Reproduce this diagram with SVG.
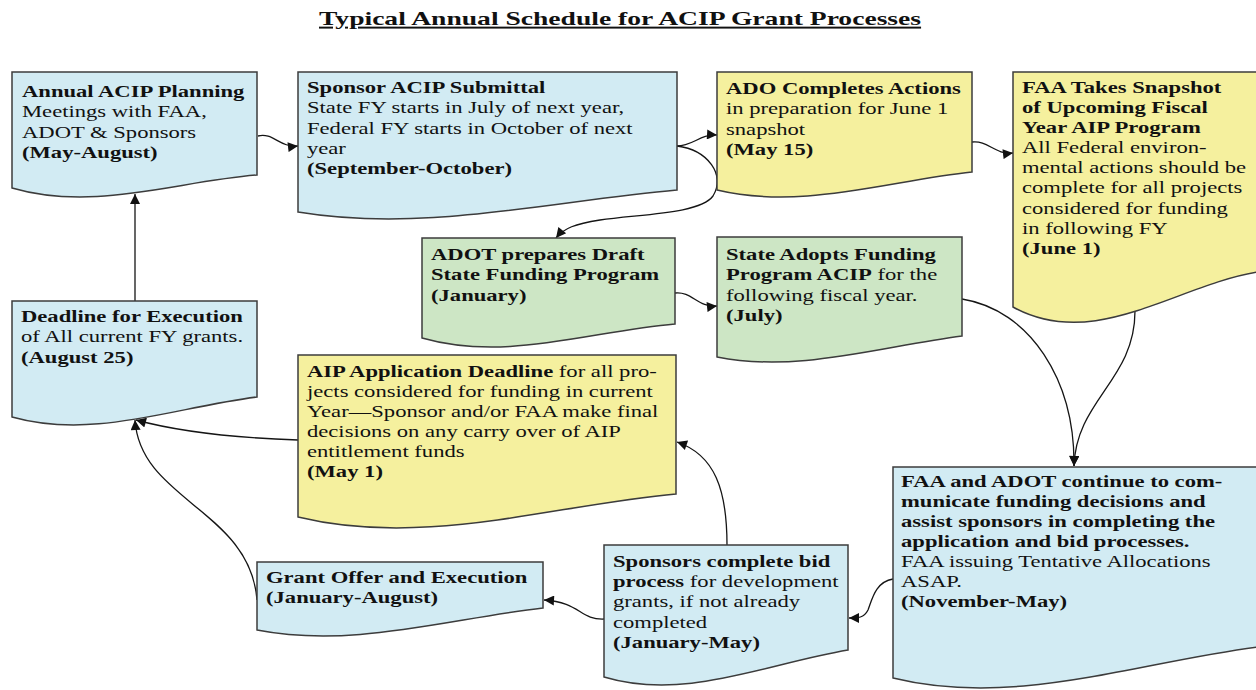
<svg xmlns="http://www.w3.org/2000/svg" width="1256" height="690" viewBox="0 0 1256 690">
<defs>
<marker id="ah" viewBox="0 0 10 10" refX="10" refY="5" markerWidth="12" markerHeight="10" markerUnits="userSpaceOnUse" orient="auto">
<path d="M0,0 L10,5 L0,10 z" fill="#111"/>
</marker>
</defs>
<style>
.blue{fill:#D2EBF3;stroke:#3c3c3c;stroke-width:1.5}
.yellow{fill:#F5F09E;stroke:#3c3c3c;stroke-width:1.5}
.green{fill:#CDE6C5;stroke:#3c3c3c;stroke-width:1.5}
text{font-family:"Liberation Serif","Times New Roman",serif;font-size:16px;fill:#111}
.b{font-weight:bold}
.title{font-size:19.5px;font-weight:bold;text-decoration:underline}
.conn{fill:none;stroke:#151515;stroke-width:1.3;marker-end:url(#ah)}
</style>
<rect width="1256" height="690" fill="#ffffff"/>
<text class="title" transform="matrix(1.415 0 0 1 319 25)">Typical Annual Schedule for ACIP Grant Processes</text>

<g id="connectors">
<path class="conn" d="M258,136 C273,132 280,148 298,146"/>
<path class="conn" d="M677,146 C693,146 700,134 717,135"/>
<path class="conn" d="M677,146 C708,150 726,175 713,196 C700,214 640,214 600,220 C575,224 564,228 556,238"/>
<path class="conn" d="M972,142 C988,140 995,155 1013,153"/>
<path class="conn" d="M675,293 C692,291 698,308 717,306"/>
<path class="conn" d="M962,299 C1030,310 1075,380 1074,466"/>
<path class="conn" d="M1135,311 C1135,380 1076,400 1074,466"/>
<path class="conn" d="M893,579 C875,582 872,600 868,610 C864,618 858,618 849,618"/>
<path class="conn" d="M727,545 C727,490 715,455 677,442"/>
<path class="conn" d="M604,619 C580,620 580,602 544,600"/>
<path class="conn" d="M257,600 C250,510 140,500 135,420"/>
<path class="conn" d="M298,440 C240,438 180,432 136,420"/>
<path class="conn" d="M135,301 L135,194"/>
</g>

<g id="n1">
<path class="blue" d="M12,72 H257 V175 C175.3,181.5 93.7,211.9 12,188 Z"/>
<text transform="matrix(1.414 0 0 1 22 97)"><tspan x="0" class="b">Annual ACIP Planning</tspan><tspan x="0" dy="20.3">Meetings with FAA,</tspan><tspan x="0" dy="20.3">ADOT &amp; Sponsors</tspan><tspan x="0" dy="20.3" class="b">(May-August)</tspan></text>
</g>

<g id="n2">
<path class="blue" d="M298,72 H677 V190 C550.7,201 424.3,233 298,212 Z"/>
<text transform="matrix(1.414 0 0 1 307 93)"><tspan x="0" class="b">Sponsor ACIP Submittal</tspan><tspan x="0" dy="20.3">State FY starts in July of next year,</tspan><tspan x="0" dy="20.3">Federal FY starts in October of next</tspan><tspan x="0" dy="20.3">year</tspan><tspan x="0" dy="20.3" class="b">(September-October)</tspan></text>
</g>

<g id="n3">
<path class="yellow" d="M717,72 H972 V172 C887,181 802,210.2 717,190 Z"/>
<text transform="matrix(1.414 0 0 1 726 94)"><tspan x="0" class="b">ADO Completes Actions</tspan><tspan x="0" dy="20.3">in preparation for June 1</tspan><tspan x="0" dy="20.3">snapshot</tspan><tspan x="0" dy="20.3" class="b">(May 15)</tspan></text>
</g>

<g id="n4">
<path class="yellow" d="M1013,72 H1258 V272 C1176.3,285 1094.7,351.9 1013,307 Z"/>
<text transform="matrix(1.414 0 0 1 1022 93)"><tspan x="0" class="b">FAA Takes Snapshot</tspan><tspan x="0" dy="20.1" class="b">of Upcoming Fiscal</tspan><tspan x="0" dy="20.1" class="b">Year AIP Program</tspan><tspan x="0" dy="20.1">All Federal environ-</tspan><tspan x="0" dy="20.1">mental actions should be</tspan><tspan x="0" dy="20.1">complete for all projects</tspan><tspan x="0" dy="20.1">considered for funding</tspan><tspan x="0" dy="20.1">in following FY</tspan><tspan x="0" dy="20.1" class="b">(June 1)</tspan></text>
</g>

<g id="n5">
<path class="green" d="M422,238 H675 V324 C590.7,331 506.3,362.1 422,338 Z"/>
<text transform="matrix(1.414 0 0 1 431 260)"><tspan x="0" class="b">ADOT prepares Draft</tspan><tspan x="0" dy="20.3" class="b">State Funding Program</tspan><tspan x="0" dy="20.3" class="b">(January)</tspan></text>
</g>

<g id="n6">
<path class="green" d="M717,237 H962 V336 C880.3,346.5 798.7,373.1 717,357 Z"/>
<text transform="matrix(1.414 0 0 1 726 260)"><tspan x="0" class="b">State Adopts Funding</tspan><tspan x="0" dy="20.3"><tspan class="b">Program ACIP</tspan> for the</tspan><tspan x="0" dy="20.3">following fiscal year.</tspan><tspan x="0" dy="20.3" class="b">(July)</tspan></text>
</g>

<g id="n7">
<path class="blue" d="M12,301 H257 V397 C175.3,407 93.7,440 12,417 Z"/>
<text transform="matrix(1.414 0 0 1 21 322)"><tspan x="0" class="b">Deadline for Execution</tspan><tspan x="0" dy="20.3">of All current FY grants.</tspan><tspan x="0" dy="20.3" class="b">(August 25)</tspan></text>
</g>

<g id="n8">
<path class="yellow" d="M298,355 H676 V494 C550,505.5 424,547.7 298,517 Z"/>
<text transform="matrix(1.414 0 0 1 307 377)"><tspan x="0"><tspan class="b">AIP Application Deadline</tspan> for all pro-</tspan><tspan x="0" dy="20.1">jects considered for funding in current</tspan><tspan x="0" dy="20.1">Year—Sponsor and/or FAA make final</tspan><tspan x="0" dy="20.1">decisions on any carry over of AIP</tspan><tspan x="0" dy="20.1">entitlement funds</tspan><tspan x="0" dy="20.1" class="b">(May 1)</tspan></text>
</g>

<g id="n9">
<path class="blue" d="M893,467 H1258 V647 C1136.3,662.5 1014.7,707.9 893,678 Z"/>
<text transform="matrix(1.414 0 0 1 901 487)"><tspan x="0" class="b">FAA and ADOT continue to com-</tspan><tspan x="0" dy="20" class="b">municate funding decisions and</tspan><tspan x="0" dy="20" class="b">assist sponsors in completing the</tspan><tspan x="0" dy="20" class="b">application and bid processes.</tspan><tspan x="0" dy="20">FAA issuing Tentative Allocations</tspan><tspan x="0" dy="20">ASAP.</tspan><tspan x="0" dy="20" class="b">(November-May)</tspan></text>
</g>

<g id="n10">
<path class="blue" d="M604,545 H848 V650 C766.7,663.5 685.3,701.4 604,677 Z"/>
<text transform="matrix(1.414 0 0 1 613 567)"><tspan x="0" class="b">Sponsors complete bid</tspan><tspan x="0" dy="20.2"><tspan class="b">process</tspan> for development</tspan><tspan x="0" dy="20.2">grants, if not already</tspan><tspan x="0" dy="20.2">completed</tspan><tspan x="0" dy="20.2" class="b">(January-May)</tspan></text>
</g>

<g id="n11">
<path class="blue" d="M257,562 H543 V608 C447.7,619 352.3,648.6 257,630 Z"/>
<text transform="matrix(1.414 0 0 1 266 583)"><tspan x="0" class="b">Grant Offer and Execution</tspan><tspan x="0" dy="20.2" class="b">(January-August)</tspan></text>
</g>
</svg>
